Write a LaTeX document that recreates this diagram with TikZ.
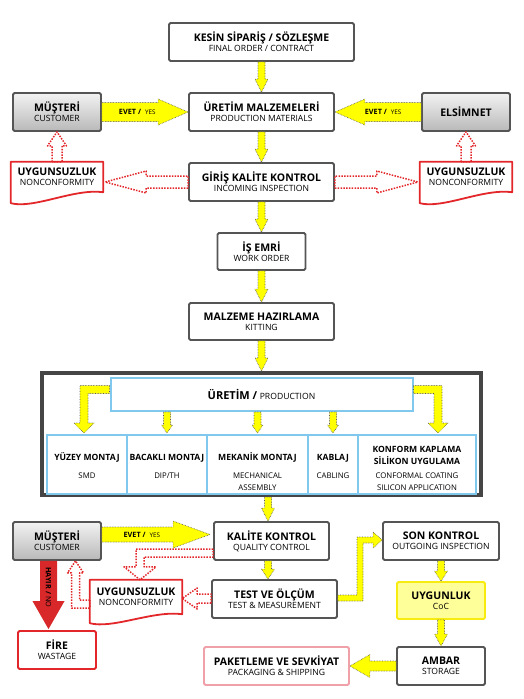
\documentclass[tikz,border=0pt]{standalone}
\usepackage{fontspec}
\setmainfont{Open Sans}
\usetikzlibrary{calc,positioning}
\definecolor{boxgray}{HTML}{555555}
\definecolor{framegray}{HTML}{454545}
\definecolor{ncred}{HTML}{E3262A}
\definecolor{nored}{HTML}{D8282A}
\definecolor{prodblue}{HTML}{80C8EE}
\definecolor{arrowyellow}{HTML}{FFFF00}
\definecolor{cocfill}{HTML}{FFFF9A}
\definecolor{cocedge}{HTML}{F7EB10}
\definecolor{shippink}{HTML}{F0A0A8}
\newcommand{\boxtitle}[1]{{\fontsize{10.5}{11}\selectfont\bfseries #1}}
\newcommand{\boxsub}[1]{{\fontsize{8.6}{9}\selectfont #1}}
% fat block arrows: style, from, to, body half width, head half width, head length
\newcommand{\vfat}[6]{%
  \path[#1] let \p1=#2, \p2=#3, \n1={(\y2)-sign((\y2)-(\y1))*(#6)} in
    (\x1-#4,\y1) -- (\x1-#4,\n1*1pt) -- (\x1-#5,\n1*1pt) -- (\x1,\y2)
    -- (\x1+#5,\n1*1pt) -- (\x1+#4,\n1*1pt) -- (\x1+#4,\y1) -- cycle;}
\newcommand{\hfat}[6]{%
  \path[#1] let \p1=#2, \p2=#3, \n1={(\x2)-sign((\x2)-(\x1))*(#6)} in
    (\x1,\y1-#4) -- (\n1*1pt,\y1-#4) -- (\n1*1pt,\y1-#5) -- (\x2,\y1)
    -- (\n1*1pt,\y1+#5) -- (\n1*1pt,\y1+#4) -- (\x1,\y1+#4) -- cycle;}
\newcommand{\docshape}[2]{%
  \draw[ncshape] (#1.north west) -- (#1.north east) -- (#1.south east)
    .. controls ($(#1.south east)+(-29,4)$) and ($(#1.south west)+(23,-#2-6)$) .. ($(#1.south west)+(0,-#2)$) -- cycle;}
\tikzset{
    block/.style = {draw=boxgray, line width=1.8pt, rounded corners=1.5pt, fill=white,
        minimum height=38pt, minimum width=145pt, align=center, inner sep=0pt,
        font=\fontsize{8.6}{10}\selectfont},
    custblock/.style = {block, top color=gray!10, bottom color=gray!55, minimum width=88pt},
    ncblock/.style = {minimum width=92pt, minimum height=30pt, align=center, inner sep=0pt,
        font=\fontsize{8.6}{10}\selectfont},
    ncshape/.style = {draw=ncred, line width=1.8pt, line join=round},
    prodblock/.style = {draw=prodblue, line width=2pt, fill=white, minimum width=302pt,
        minimum height=33pt, inner sep=0pt},
    subblock/.style = {draw=prodblue, line width=2pt, minimum height=59pt, outer sep=0pt, inner sep=0pt},
    subttl/.style = {anchor=base, inner sep=0pt, font=\fontsize{8.6}{10}\selectfont\bfseries},
    subsub/.style = {anchor=base, inner sep=0pt, font=\fontsize{7.8}{9}\selectfont},
    cocblock/.style = {block, draw=cocedge, fill=cocfill, minimum width=88pt, minimum height=37pt},
    yel/.style = {fill=arrowyellow, draw=gray!70!black, line width=0.6pt, densely dotted, line join=round},
    ncarrow/.style = {draw=ncred, line width=1.5pt, dash pattern=on 1.5pt off 1.3pt, line join=round},
    noarrow/.style = {fill=nored},
    evetlbl/.style = {inner sep=0pt, font=\fontsize{7.3}{8}\selectfont}
}
\begin{document}
\begin{tikzpicture}[x=1pt, y=1pt, node distance=70pt]
    \useasboundingbox (0,0) rectangle (523,-699);
    % upper part
    \node [block, minimum width=185pt] (kesin) at (261.5,-42) {\boxtitle{KESİN SİPARİŞ / SÖZLEŞME}\\\boxsub{FINAL ORDER / CONTRACT}};
    \node [block, below of=kesin] (malz) {\boxtitle{ÜRETİM MALZEMELERİ}\\\boxsub{PRODUCTION MATERIALS}};
    \node [custblock, left of=malz, node distance=204.5pt] (must1) {\boxtitle{MÜŞTERİ}\\\boxsub{CUSTOMER}};
    \node [custblock, right of=malz, node distance=204.5pt] (elsim) {\boxtitle{ELSİMNET}};
    \node [block, below of=malz] (giris) {\boxtitle{GİRİŞ KALİTE KONTROL}\\\boxsub{INCOMING INSPECTION}};
    \node [ncblock, below of=must1, node distance=65pt] (nc1) {\boxtitle{UYGUNSUZLUK}\\\boxsub{NONCONFORMITY}};
    \node [ncblock, below of=elsim, node distance=65pt] (nc2) {\boxtitle{UYGUNSUZLUK}\\\boxsub{NONCONFORMITY}};
    \docshape{nc1}{11}
    \docshape{nc2}{11}
    \node [block, minimum width=88pt, minimum height=37pt, below of=giris, node distance=69.5pt] (isemri) {\boxtitle{İŞ EMRİ}\\\boxsub{WORK ORDER}};
    \node [block, minimum height=37pt, below of=isemri] (kitting) {\boxtitle{MALZEME HAZIRLAMA}\\\boxsub{KITTING}};
    \vfat{yel}{(kesin.south)}{(malz.north)}{3.5pt}{6.5pt}{13pt}
    \vfat{yel}{(malz.south)}{(giris.north)}{3.5pt}{6.5pt}{13pt}
    \vfat{yel}{(giris.south)}{(isemri.north)}{3.5pt}{6.5pt}{13pt}
    \vfat{yel}{(isemri.south)}{(kitting.north)}{3.5pt}{6.5pt}{13pt}
    \hfat{yel}{(must1.east)}{(malz.west)}{9.5pt}{13pt}{30pt}
    \path (must1.east) -- (malz.west) node [evetlbl, pos=0.41] (yes1) {\textbf{EVET /}\hspace{4pt}\fontsize{6.3}{7}\selectfont YES};
    \hfat{yel}{(elsim.west)}{(malz.east)}{9.5pt}{13pt}{30pt}
    \path (elsim.west) -- (malz.east) node [evetlbl, pos=0.44] (yes2) {\textbf{EVET /}\hspace{4pt}\fontsize{6.3}{7}\selectfont YES};
    \hfat{ncarrow}{(giris.west)}{($(nc1.east)+(2,0)$)}{6pt}{11pt}{41pt}
    \hfat{ncarrow}{(giris.east)}{($(nc2.west)+(-2,0)$)}{6pt}{11pt}{41pt}
    \vfat{ncarrow}{(nc1.north)}{(must1.south)}{5pt}{9.5pt}{14pt}
    \vfat{ncarrow}{(nc2.north)}{(elsim.south)}{5pt}{9.5pt}{14pt}
    % production
    \node [draw=framegray, line width=4pt, minimum width=439pt, minimum height=122pt, inner sep=0pt, below of=kitting, node distance=112.5pt] (frame) {};
    \vfat{yel}{(kitting.south)}{(frame.north)}{3.5pt}{6.5pt}{13pt}
    \node [prodblock, below of=kitting, node distance=73pt] (prod) {\boxtitle{\fontsize{11}{12}\selectfont ÜRETİM /} \boxsub{PRODUCTION}};
    \node [subblock, minimum width=80pt] (smd) at (87,-464.5) {};
    \node [subblock, minimum width=80pt, right=0pt of smd] (dip) {};
    \node [subblock, minimum width=101pt, right=0pt of dip] (mech) {};
    \node [subblock, minimum width=50pt, right=0pt of mech] (kab) {};
    \node [subblock, minimum width=118pt, right=0pt of kab] (konf) {};
    \node [subttl] (smdt) at ($(smd.north)+(0,-25)$) {YÜZEY MONTAJ};
    \node [subsub] (smds) at ($(smd.north)+(0,-43)$) {SMD};
    \node [subttl] (dipt) at ($(dip.north)+(0,-25)$) {BACAKLI MONTAJ};
    \node [subsub] (dips) at ($(dip.north)+(0,-43)$) {DIP/TH};
    \node [subttl] (mecht) at ($(mech.north)+(0,-25)$) {MEKANİK MONTAJ};
    \node [subsub] (mechs) at ($(mech.north)+(0,-43)$) {MECHANICAL};
    \node [subsub] (mechs2) at ($(mech.north)+(0,-55)$) {ASSEMBLY};
    \node [subttl] (kabt) at ($(kab.north)+(0,-25)$) {KABLAJ};
    \node [subsub] (kabs) at ($(kab.north)+(0,-43)$) {CABLING};
    \node [subttl] (konft) at ($(konf.north)+(0,-17.5)$) {KONFORM KAPLAMA};
    \node [subttl] (konft2) at ($(konf.north)+(0,-29.5)$) {SİLİKON UYGULAMA};
    \node [subsub] (konfs) at ($(konf.north)+(0,-43)$) {CONFORMAL COATING};
    \node [subsub] (konfs2) at ($(konf.north)+(0,-55)$) {SILICON APPLICATION};
    \path[yel] let \p1=($(prod.west)+(0,5)$), \p2=($(smd.north)+(-3,2)$) in
        (\x1,\y1+4pt) -- (\x2-4pt,\y1+4pt) -- (\x2-4pt,\y2+10pt) -- (\x2-10pt,\y2+10pt) -- (\x2,\y2)
        -- (\x2+10pt,\y2+10pt) -- (\x2+4pt,\y2+10pt) -- (\x2+4pt,\y1-4pt) -- (\x1,\y1-4pt) -- cycle;
    \path[yel] let \p1=($(prod.east)+(0,5)$), \p2=($(konf.north)+(21,2)$) in
        (\x1,\y1+4pt) -- (\x2+4pt,\y1+4pt) -- (\x2+4pt,\y2+10pt) -- (\x2+10pt,\y2+10pt) -- (\x2,\y2)
        -- (\x2-10pt,\y2+10pt) -- (\x2-4pt,\y2+10pt) -- (\x2-4pt,\y1-4pt) -- (\x1,\y1-4pt) -- cycle;
    \vfat{yel}{(prod.south -| dip.north)}{($(dip.north)+(0,2)$)}{3.5pt}{5.5pt}{8pt}
    \vfat{yel}{(prod.south -| mech.north)}{($(mech.north)+(0,2)$)}{3.5pt}{5.5pt}{8pt}
    \vfat{yel}{(prod.south -| kab.north)}{($(kab.north)+(0,2)$)}{3.5pt}{5.5pt}{8pt}
    % lower part
    \node [custblock] (must2) at (57,-541) {\boxtitle{MÜŞTERİ}\\\boxsub{CUSTOMER}};
    \node [block, minimum width=115pt] (kalite) at (271.5,-541) {\boxtitle{KALİTE KONTROL}\\\boxsub{QUALITY CONTROL}};
    \node [block, minimum width=125pt] (test) at (274.5,-599) {\boxtitle{TEST VE ÖLÇÜM}\\\boxsub{TEST \& MEASUREMENT}};
    \node [block, minimum width=116pt] (son) at (441,-541) {\boxtitle{SON KONTROL}\\\boxsub{OUTGOING INSPECTION}};
    \node [cocblock, below of=son, node distance=59.5pt] (uygun) {\boxtitle{UYGUNLUK}\\\boxsub{CoC}};
    \node [block, minimum width=88pt, below of=uygun, node distance=65.5pt] (ambar) {\boxtitle{AMBAR}\\\boxsub{STORAGE}};
    \node [block, draw=shippink, left of=ambar, node distance=164.5pt] (paket) {\boxtitle{PAKETLEME VE SEVKİYAT}\\\boxsub{PACKAGING \& SHIPPING}};
    \node [block, draw=ncred, minimum width=78pt, below of=must2, node distance=109pt] (fire) {\boxtitle{FİRE}\\\boxsub{WASTAGE}};
    \node [ncblock, minimum height=34pt] (nc3) at (136,-597) {\boxtitle{UYGUNSUZLUK}\\\boxsub{NONCONFORMITY}};
    \docshape{nc3}{9}
    \vfat{yel}{($(frame.south -| kalite.north)+(-3.5,0)$)}{($(kalite.north)+(-3.5,0)$)}{3.5pt}{6.5pt}{13pt}
    \vfat{yel}{($(kalite.south)+(-3.5,0)$)}{($(kalite.south |- test.north)+(-3.5,0)$)}{3.5pt}{6.5pt}{10pt}
    \vfat{yel}{(son.south)}{(uygun.north)}{3.5pt}{6.5pt}{10pt}
    \vfat{yel}{(uygun.south)}{(ambar.north)}{3.5pt}{6.5pt}{12pt}
    \hfat{yel}{(ambar.west)}{(paket.east)}{5pt}{11.5pt}{20pt}
    \hfat{yel}{($(must2.east)+(0,6.5)$)}{($(kalite.west)+(-3,6.5)$)}{7.5pt}{13.5pt}{37pt}
    \path ($(must2.east)+(0,6.5)$) -- ($(kalite.west)+(0,6.5)$) node [evetlbl, pos=0.36] (yes3) {\textbf{EVET /}\hspace{4pt}\fontsize{6.3}{7}\selectfont YES};
    \path[yel] let \p1=($(test.east)+(0,1)$), \p2=($(son.west)+(0,1)$), \p3=($(\p1)!0.5!(\p2)$) in
        (\x1,\y1-3pt) -- (\x3+3pt,\y1-3pt) -- (\x3+3pt,\y2-3pt) -- (\x2-9pt,\y2-3pt) -- (\x2-9pt,\y2-8pt) -- (\x2,\y2)
        -- (\x2-9pt,\y2+8pt) -- (\x2-9pt,\y2+3pt) -- (\x3-3pt,\y2+3pt) -- (\x3-3pt,\y1+3pt) -- (\x1,\y1+3pt) -- cycle;
    \vfat{noarrow}{($(must2.south)+(-8.5,0)$)}{($(fire.north)+(-8.5,1)$)}{8.5pt}{16pt}{28pt}
    \path ($(must2.south)+(-8.5,0)$) -- ($(fire.north)+(-8.5,0)$) node [evetlbl, rotate=-90, pos=0.38] (hayir) {\textbf{HAYIR /} NO};
    \hfat{ncarrow}{($(test.west)+(0,0.5)$)}{($(nc3.east |- test.west)+(0,0.5)$)}{4.5pt}{10.5pt}{15pt}
    \path[ncarrow] let \p1=($(kalite.west)+(0,-12)$), \p2=($(nc3.north)+(4,0)$) in
        (\x1,\y1+4pt) -- (\x2-4pt,\y1+4pt) -- (\x2-4pt,\y2+13pt) -- (\x2-16pt,\y2+13pt) -- (\x2,\y2)
        -- (\x2+16pt,\y2+13pt) -- (\x2+4pt,\y2+13pt) -- (\x2+4pt,\y1-4pt) -- (\x1,\y1-4pt) -- cycle;
    \path[ncarrow] let \p1=($(nc3.west)+(0,-7)$), \p2=($(must2.south)+(18.5,0)$) in
        (\x1,\y1+4pt) -- (\x2+4pt,\y1+4pt) -- (\x2+4pt,\y2-12pt) -- (\x2+8pt,\y2-12pt) -- (\x2,\y2)
        -- (\x2-8pt,\y2-12pt) -- (\x2-4pt,\y2-12pt) -- (\x2-4pt,\y1-4pt) -- (\x1,\y1-4pt) -- cycle;
\end{tikzpicture}
\end{document}
